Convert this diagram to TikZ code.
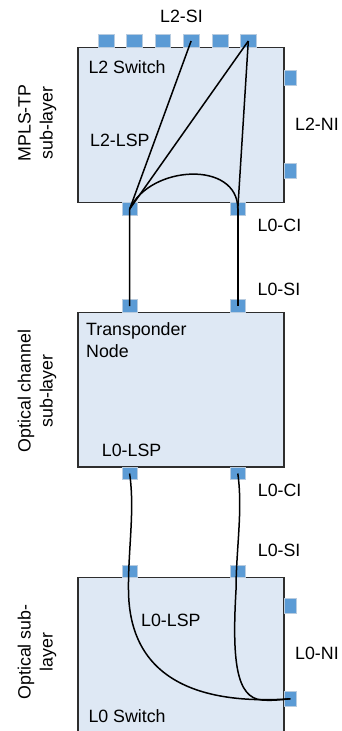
\documentclass[tikz,border=0pt]{standalone}
\usepackage{fontspec}
\setmainfont{Liberation Sans}
\definecolor{boxfill}{HTML}{DEE8F4}
\definecolor{boxline}{HTML}{2E2E2E}
\definecolor{portfill}{HTML}{5B9BD5}
\definecolor{portline}{HTML}{B8CCE0}
\tikzset{
  layerbox/.style={draw=boxline, fill=boxfill, line width=1.2pt},
  hport/.style={rectangle, fill=portfill, draw=portline, line width=0.6pt, minimum width=15.5pt, minimum height=12.5pt, inner sep=0pt},
  vport/.style={rectangle, fill=portfill, draw=portline, line width=0.6pt, minimum width=12.5pt, minimum height=15.5pt, inner sep=0pt},
  conn/.style={draw=black, line width=1.5pt},
  lbl/.style={font=\fontsize{17.8}{22}\selectfont, inner sep=0pt, anchor=base west, text=black},
  rlbl/.style={font=\fontsize{17.8}{22}\selectfont, inner sep=0pt, anchor=base, rotate=90, text=black}
}
\begin{document}
\begin{tikzpicture}[x=1pt,y=-1pt]
\useasboundingbox (0,0) rectangle (342,731);
% boxes
\draw[layerbox] (78,47.7) rectangle (284,202.3);
\draw[layerbox] (78,312.7) rectangle (284,467);
\fill[boxfill] (78,577.7) rectangle (284,731);
\draw[draw=boxline, line width=1.2pt] (78,731) -- (78,577.7) -- (284,577.7) -- (284,731);
% ports box 1
\node[hport] (t1) at (106.1,41) {};
\node[hport] (t2) at (134.5,41) {};
\node[hport] (t3) at (162.8,41) {};
\node[hport] (t4) at (191.1,41) {};
\node[hport] (t5) at (220.1,41) {};
\node[hport] (t6) at (248.3,41) {};
\node[vport] (r11) at (290.3,77.8) {};
\node[vport] (r12) at (290.3,171) {};
\node[hport] (bl1) at (129.7,209) {};
\node[hport] (br1) at (237.8,209) {};
% ports box 2
\node[hport] (tl2) at (129.6,306) {};
\node[hport] (tr2) at (237.8,306) {};
\node[hport] (bl2) at (129.6,473.5) {};
\node[hport] (br2) at (237.8,473.5) {};
% ports box 3
\node[hport] (tl3) at (129.6,571.3) {};
\node[hport] (tr3) at (237.8,571.3) {};
\node[vport] (r31) at (290.3,606) {};
\node[vport] (r32) at (290.3,698.8) {};
% connectors
\draw[conn] (t4.center) -- (bl1.center);
\draw[conn] (t6.center) -- (bl1.center);
\draw[conn] (t6.center) -- (br1.center);
\draw[conn] (bl1.center) .. controls (150,165) and (238,160) .. (br1.center);
\draw[conn] (bl1.center) -- (tl2.center);
\draw[conn] (br1.center) -- (tr2.center);
\draw[conn] (bl2.center) .. controls (135,510) and (128,550) .. (128.5,590)
  .. controls (129,680) and (200,705) .. (r32.center);
\draw[conn] (br2.center) .. controls (243,510) and (236,550) .. (236,590)
  .. controls (232,660) and (236,698) .. (262,700)
  .. controls (275,701) and (285,699) .. (r32.center);
% labels
\node[lbl] (l2si) at (160,22.7) {L2-SI};
\node[lbl] (l2sw) at (88.3,73.3) {L2 Switch};
\node[lbl] (l2lsp) at (90,146.7) {L2-LSP};
\node[lbl] (l2ni) at (295,130) {L2-NI};
\node[lbl] (l0ci1) at (257.5,231.7) {L0-CI};
\node[lbl] (l0si1) at (257.5,295) {L0-SI};
\node[lbl] (trans) at (86,335.5) {Transponder};
\node[lbl] (tnode) at (86,357) {Node};
\node[lbl] (l0lsp1) at (101.7,456.7) {L0-LSP};
\node[lbl] (l0ci2) at (257.7,496) {L0-CI};
\node[lbl] (l0si2) at (257.7,556) {L0-SI};
\node[lbl] (l0lsp2) at (141,626.7) {L0-LSP};
\node[lbl] (l0ni) at (295,659.3) {L0-NI};
\node[lbl] (l0sw) at (88.3,722.7) {L0 Switch};
% rotated layer labels
\node[rlbl] (mpls1) at (30.7,123) {MPLS-TP};
\node[rlbl] (mpls2) at (52.7,123) {sub-layer};
\node[rlbl] (och1) at (30.7,391) {Optical channel};
\node[rlbl] (och2) at (52.7,391) {sub-layer};
\node[rlbl] (opt1) at (30.7,652) {Optical sub-};
\node[rlbl] (opt2) at (52.7,652) {layer};
\end{tikzpicture}
\end{document}
